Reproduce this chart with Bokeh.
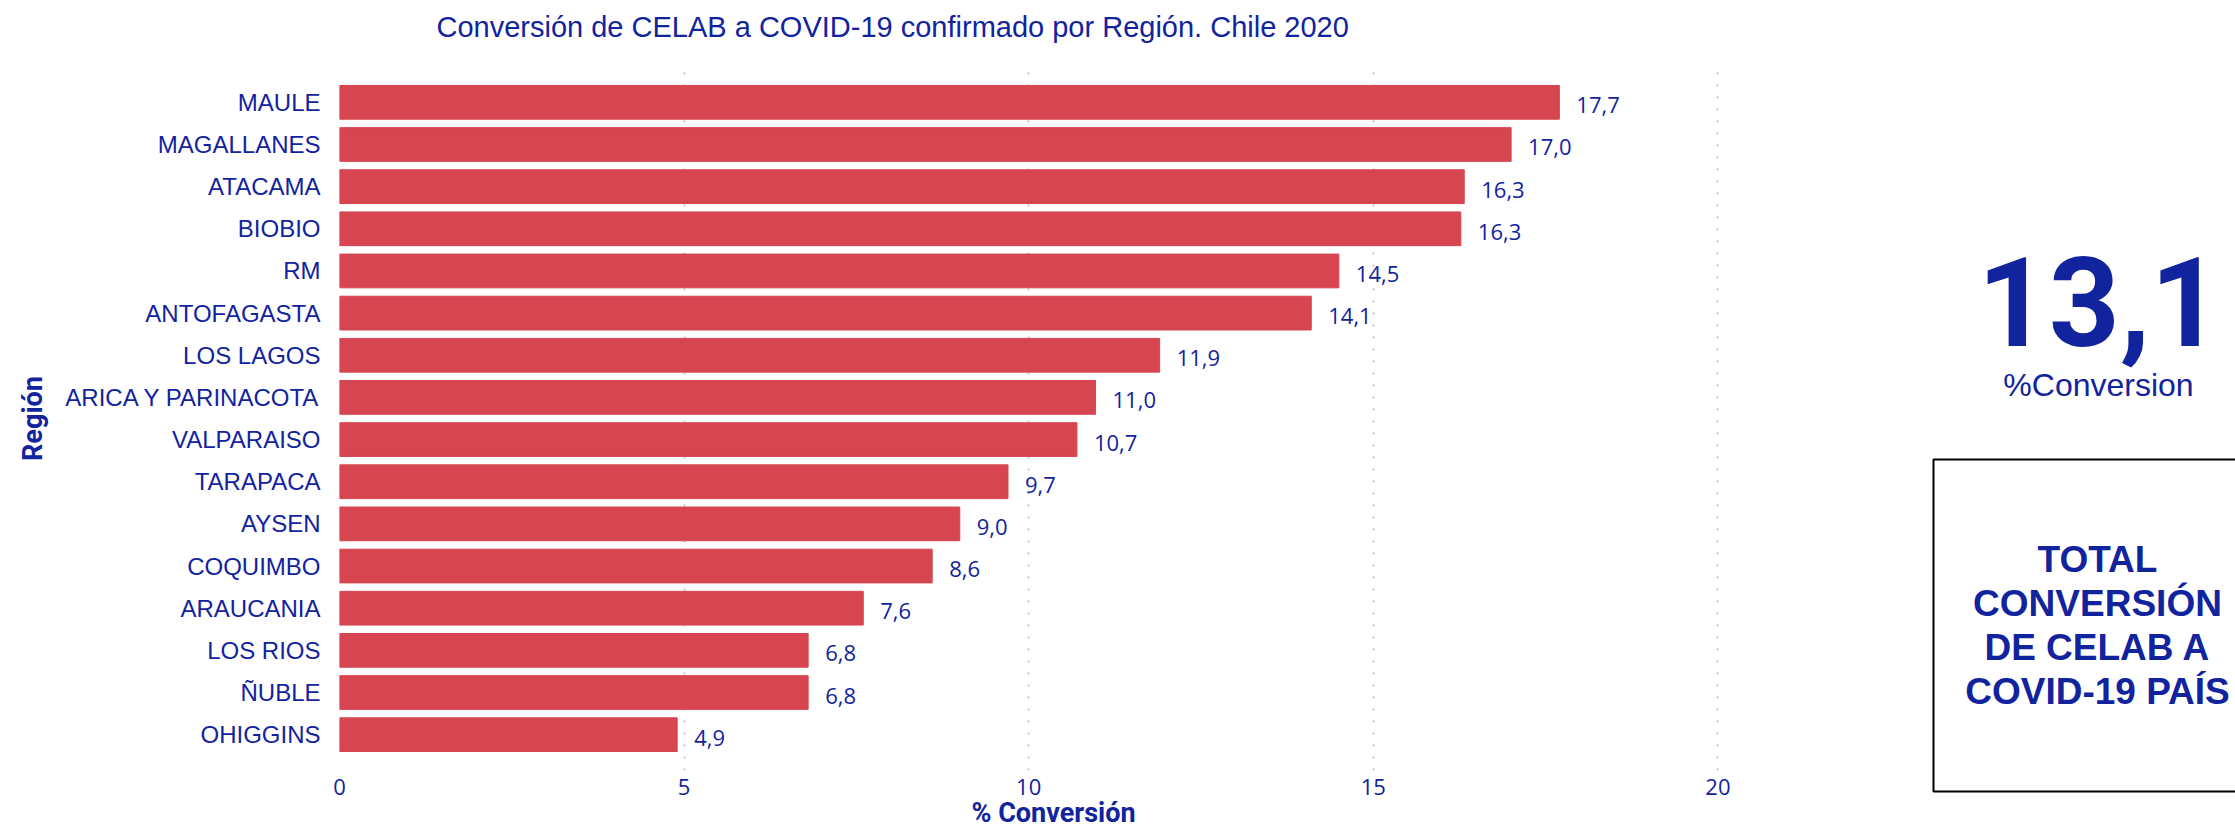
from bokeh.plotting import figure
from bokeh.models import FactorRange, Range1d, FixedTicker, ColumnDataSource
from bokeh.embed import file_html
from bokeh.resources import INLINE
from bokeh.core.properties import value

# ---------------- data ----------------
regions = ["MAULE", "MAGALLANES", "ATACAMA", "BIOBIO", "RM", "ANTOFAGASTA",
           "LOS LAGOS", "ARICA Y PARINACOTA", "VALPARAISO", "TARAPACA", "AYSEN",
           "COQUIMBO", "ARAUCANIA", "LOS RIOS", "ÑUBLE", "OHIGGINS"]
conversion = [17.7, 17.0, 16.32, 16.27, 14.5, 14.1, 11.9, 10.97, 10.7, 9.7,
              9.0, 8.6, 7.6, 6.8, 6.8, 4.9]
x_ticks = [0, 5, 10, 15, 20]
total_conversion = 13.1
title_text = "Conversión de CELAB a COVID-19 confirmado por Región. Chile 2020"
x_title = "% Conversión"
y_title = "Región"
card_label = "%Conversion"
box_lines = ["TOTAL", "CONVERSIÓN", "DE CELAB A", "COVID-19 PAÍS"]

BLUE = "#12239E"
RED = "#D64550"
GRID = "#C8C8C8"


def fmt(v):
    return f"{v:.1f}".replace(".", ",")


src = ColumnDataSource(dict(region=regions, conv=conversion,
                            label=[fmt(v) for v in conversion]))

W, H = 2235, 832
W1 = 1900
FRAME_W = 1428
p = figure(width=W1, height=H, title=None,
           y_range=FactorRange(factors=regions[::-1], range_padding=0.35,
                               range_padding_units="absolute"),
           x_range=Range1d(0, 20.72),
           output_backend="svg", toolbar_location=None,
           min_border_left=339, min_border_right=W1 - 339 - FRAME_W,
           min_border_top=66, min_border_bottom=62)

p.hbar(y="region", left=0, right="conv", height=0.8, color=RED, source=src)
p.text(x="conv", y="region", text="label", source=src,
       x_offset=17, y_offset=3, text_align="left", text_baseline="middle",
       text_font=value("Open Sans"), text_font_size="22px", text_color=BLUE)

p.outline_line_color = None
p.ygrid.grid_line_color = None
p.xgrid.grid_line_color = GRID
p.xgrid.grid_line_width = 2
p.xgrid.grid_line_dash = "2 10"

p.xaxis.ticker = FixedTicker(ticks=x_ticks)
p.xaxis.axis_line_color = None
p.xaxis.major_tick_line_color = None
p.xaxis.major_tick_out = 0
p.xaxis.major_tick_in = 0
p.xaxis.minor_tick_line_color = None
p.xaxis.major_label_standoff = 8
p.xaxis.major_label_text_font = "Open Sans"
p.xaxis.major_label_text_font_size = "22px"
p.xaxis.major_label_text_color = BLUE

p.yaxis.axis_line_color = None
p.yaxis.major_tick_line_color = None
p.yaxis.major_tick_out = 0
p.yaxis.major_tick_in = 0
p.yaxis.minor_tick_line_color = None
p.yaxis.major_label_standoff = 19
p.yaxis.major_label_text_font = "Liberation Sans"
p.yaxis.major_label_text_font_size = "24px"
p.yaxis.major_label_text_color = BLUE
p.yaxis.axis_label = y_title
p.yaxis.axis_label_standoff = 13
p.yaxis.axis_label_text_font = "Roboto"
p.yaxis.axis_label_text_font_size = "27px"
p.yaxis.axis_label_text_font_style = "bold"
p.yaxis.axis_label_text_color = BLUE

# ---------------- transparent overlay: titles and KPI card (page pixel coordinates) ----------------
p2 = figure(width=W, height=H, title=None,
            x_range=Range1d(0, W), y_range=Range1d(H, 0),
            x_axis_type=None, y_axis_type=None,
            output_backend="svg", toolbar_location=None, min_border=0)
p2.grid.visible = False
p2.outline_line_color = None
p2.background_fill_color = None
p2.border_fill_color = None
p2.styles = {"position": "absolute", "left": "0px", "top": "0px"}

p2.text(x=[436], y=[26], text=[title_text], text_align="left",
        text_baseline="middle", text_font=value("Liberation Sans"),
        text_font_size="29px", text_color=BLUE)
p2.text(x=[1053], y=[812], text=[x_title], text_align="center",
        text_baseline="middle", text_font=value("Roboto"),
        text_font_style="bold", text_font_size="27px", text_color=BLUE)

p2.text(x=[2099], y=[301], text=[fmt(total_conversion)], text_align="center",
        text_baseline="middle", text_font=value("Roboto"),
        text_font_style="bold", text_font_size="124px", text_color=BLUE)
p2.text(x=[2098], y=[384], text=[card_label], text_align="center",
        text_baseline="middle", text_font=value("Liberation Sans"),
        text_font_size="32px", text_color=BLUE)
p2.quad(left=[1933], right=[2250], top=[459], bottom=[791], fill_color=None,
        line_color="black", line_width=2)
p2.text(x=[2097] * 4, y=[559 + 44 * i for i in range(4)], text=box_lines,
        text_align="center", text_baseline="middle",
        text_font=value("Liberation Sans"), text_font_style="bold",
        text_font_size="37px", text_color=BLUE)

open("out.html", "w").write(file_html([p, p2], INLINE))
